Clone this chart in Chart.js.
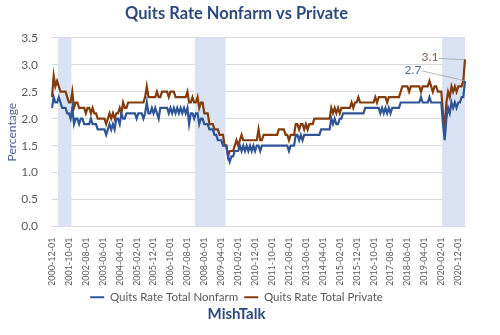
<!doctype html>
<html>
<head>
<meta charset="utf-8">
<title>Quits Rate Nonfarm vs Private</title>
<script src="https://cdn.jsdelivr.net/npm/chart.js"></script>
<style>
  html, body { margin: 0; padding: 0; background: #fff; }
  canvas { display: block; }
</style>
</head>
<body>
<canvas id="quits" width="500" height="335"></canvas>
<script>
// monthly JOLTS quits rates, Dec 2000 .. Apr 2021 (one row per year)
const FIRST_YEAR = 2000, FIRST_MONTH = 12;

const nonfarm = [
  2.2,
  2.4, 2.3, 2.3, 2.4, 2.3, 2.2, 2.2, 2.2, 2.1, 2.1, 2.0, 2.2, // 2001
  1.9, 2.0, 2.0, 1.9, 2.0, 2.0, 1.9, 1.9, 1.9, 1.9, 2.0, 1.9, // 2002
  1.9, 1.9, 1.8, 1.8, 1.8, 1.8, 1.8, 1.7, 1.8, 1.9, 1.8, 1.9, // 2003
  1.8, 2.0, 2.0, 1.9, 2.1, 2.0, 2.0, 2.1, 2.1, 2.1, 2.1, 2.1, // 2004
  2.1, 2.0, 2.1, 2.1, 2.1, 2.0, 2.1, 2.3, 2.1, 2.1, 2.2, 2.1, // 2005
  2.2, 2.1, 2.0, 2.2, 2.2, 2.2, 2.2, 2.2, 2.1, 2.2, 2.1, 2.2, // 2006
  2.1, 2.2, 2.1, 2.2, 2.1, 2.2, 2.1, 2.2, 1.9, 2.1, 2.1, 2.0, // 2007
  2.1, 2.1, 1.9, 2.0, 2.0, 1.9, 1.9, 1.9, 1.8, 1.8, 1.8, 1.7, // 2008
  1.7, 1.6, 1.6, 1.6, 1.5, 1.5, 1.5, 1.3, 1.2, 1.3, 1.3, 1.4, // 2009
  1.4, 1.4, 1.5, 1.4, 1.5, 1.4, 1.5, 1.4, 1.5, 1.4, 1.5, 1.4, // 2010
  1.5, 1.5, 1.4, 1.5, 1.5, 1.5, 1.5, 1.5, 1.5, 1.5, 1.5, 1.5, // 2011
  1.5, 1.5, 1.5, 1.5, 1.5, 1.5, 1.5, 1.4, 1.5, 1.5, 1.5, 1.7, // 2012
  1.7, 1.6, 1.7, 1.6, 1.7, 1.7, 1.7, 1.7, 1.7, 1.7, 1.7, 1.7, // 2013
  1.7, 1.7, 1.8, 1.8, 1.8, 1.8, 1.8, 1.8, 2.0, 1.9, 2.0, 1.9, // 2014
  1.9, 2.0, 2.0, 2.1, 2.1, 2.1, 2.1, 2.1, 2.1, 2.1, 2.1, 2.1, // 2015
  2.1, 2.1, 2.1, 2.1, 2.2, 2.2, 2.2, 2.2, 2.2, 2.2, 2.2, 2.2, // 2016
  2.2, 2.1, 2.2, 2.1, 2.2, 2.1, 2.2, 2.1, 2.2, 2.2, 2.2, 2.2, // 2017
  2.2, 2.3, 2.3, 2.3, 2.3, 2.3, 2.3, 2.3, 2.3, 2.3, 2.3, 2.3, // 2018
  2.3, 2.4, 2.3, 2.3, 2.3, 2.3, 2.4, 2.3, 2.3, 2.3, 2.3, 2.3, // 2019
  2.3, 2.3, 1.9, 1.6, 2.0, 2.2, 2.1, 2.3, 2.2, 2.3, 2.2, 2.3, // 2020
  2.3, 2.4, 2.4, 2.7                                          // 2021
];

const privateSector = [
  2.4,
  2.8, 2.6, 2.7, 2.6, 2.5, 2.5, 2.5, 2.5, 2.4, 2.3, 2.3, 2.5, // 2001
  2.2, 2.3, 2.3, 2.2, 2.2, 2.2, 2.2, 2.1, 2.2, 2.2, 2.1, 2.2, // 2002
  2.1, 2.1, 2.0, 2.0, 2.0, 2.0, 2.0, 1.9, 2.0, 2.1, 2.0, 2.1, // 2003
  2.0, 2.1, 2.1, 2.2, 2.1, 2.3, 2.2, 2.2, 2.3, 2.3, 2.3, 2.3, // 2004
  2.3, 2.3, 2.3, 2.3, 2.3, 2.3, 2.4, 2.6, 2.4, 2.4, 2.4, 2.4, // 2005
  2.4, 2.5, 2.4, 2.4, 2.5, 2.5, 2.5, 2.5, 2.4, 2.5, 2.5, 2.5, // 2006
  2.4, 2.4, 2.4, 2.4, 2.4, 2.4, 2.4, 2.5, 2.3, 2.3, 2.4, 2.3, // 2007
  2.3, 2.4, 2.2, 2.3, 2.3, 2.1, 2.1, 2.1, 1.9, 1.9, 1.9, 1.8, // 2008
  1.8, 1.8, 1.7, 1.7, 1.7, 1.5, 1.5, 1.3, 1.4, 1.4, 1.4, 1.5, // 2009
  1.6, 1.5, 1.6, 1.7, 1.6, 1.6, 1.6, 1.6, 1.6, 1.6, 1.6, 1.6, // 2010
  1.6, 1.8, 1.6, 1.6, 1.7, 1.7, 1.7, 1.7, 1.7, 1.7, 1.7, 1.7, // 2011
  1.7, 1.8, 1.8, 1.8, 1.8, 1.7, 1.7, 1.6, 1.7, 1.7, 1.7, 1.9, // 2012
  1.9, 1.8, 1.9, 1.9, 1.8, 1.9, 1.8, 1.9, 1.9, 1.9, 2.0, 2.0, // 2013
  2.0, 2.0, 2.0, 2.0, 2.0, 2.0, 2.0, 2.0, 2.2, 2.1, 2.2, 2.1, // 2014
  2.2, 2.1, 2.2, 2.2, 2.2, 2.2, 2.2, 2.2, 2.3, 2.2, 2.3, 2.3, // 2015
  2.4, 2.3, 2.3, 2.3, 2.3, 2.3, 2.3, 2.3, 2.3, 2.3, 2.4, 2.3, // 2016
  2.4, 2.4, 2.4, 2.4, 2.4, 2.3, 2.4, 2.4, 2.4, 2.4, 2.4, 2.4, // 2017
  2.4, 2.5, 2.6, 2.6, 2.6, 2.6, 2.5, 2.6, 2.6, 2.6, 2.6, 2.6, // 2018
  2.6, 2.5, 2.6, 2.6, 2.6, 2.6, 2.7, 2.6, 2.5, 2.6, 2.6, 2.5, // 2019
  2.5, 2.5, 2.1, 1.8, 2.3, 2.5, 2.4, 2.6, 2.5, 2.6, 2.5, 2.6, // 2020
  2.6, 2.6, 2.7, 3.1                                          // 2021
];

// recession months (first, last) shaded behind the lines
const recessions = [
  ['2001-04-01', '2001-11-01'],
  ['2008-01-01', '2009-06-01'],
  ['2020-03-01', '2021-04-01']
];

const yTicks = [0, 0.5, 1.0, 1.5, 2.0, 2.5, 3.0, 3.5];
const LABEL_EVERY = 10;

// category labels: one per month, yyyy-mm-01
const months = nonfarm.map((_, i) => {
  const m0 = FIRST_MONTH - 1 + i;
  const y = FIRST_YEAR + Math.floor(m0 / 12);
  const m = (m0 % 12) + 1;
  return y + '-' + String(m).padStart(2, '0') + '-01';
});

const BLUE = '#2F5597';
const BROWN = '#843C0C';
const GREY = '#595959';
const NAVY = '#2E4A7D';

// placement of the end-of-series value tags, relative to the last point
const tagStyle = [
  { dx: -52, dy: -11, color: '#56698F', bend: -7 },
  { dx: -35, dy: -2, color: '#7F5E4C', bend: 0 }
];

const recessionShade = {
  id: 'recessionShade',
  beforeDatasetsDraw(chart) {
    const { ctx, chartArea, scales: { x } } = chart;
    const half = (x.getPixelForValue(1) - x.getPixelForValue(0)) / 2;
    ctx.save();
    ctx.fillStyle = '#DAE3F3';
    recessions.forEach(([a, b]) => {
      const x0 = Math.max(chartArea.left, x.getPixelForValue(months.indexOf(a)) - half);
      const x1 = Math.min(chartArea.right, x.getPixelForValue(months.indexOf(b)) + half);
      ctx.fillRect(x0, chartArea.top, x1 - x0, chartArea.bottom - chartArea.top);
    });
    ctx.restore();
  }
};

const lastValueTags = {
  id: 'lastValueTags',
  afterDatasetsDraw(chart) {
    const { ctx } = chart;
    ctx.save();
    ctx.font = '12px Lato';
    ctx.textAlign = 'center';
    ctx.textBaseline = 'middle';
    chart.data.datasets.forEach((ds, i) => {
      const meta = chart.getDatasetMeta(i);
      const pt = meta.data[meta.data.length - 1];
      const t = tagStyle[i];
      const v = ds.data[ds.data.length - 1];
      const tx = pt.x + t.dx, ty = pt.y + t.dy;
      ctx.strokeStyle = '#A6A6A6';
      ctx.lineWidth = 0.8;
      ctx.beginPath();
      ctx.moveTo(tx + 9, ty + 1);
      ctx.lineTo(pt.x - 8, pt.y + t.bend * 0.3);
      ctx.lineTo(pt.x - 1, pt.y);
      ctx.stroke();
      ctx.fillStyle = t.color;
      ctx.fillText(v.toFixed(1), tx, ty);
    });
    ctx.restore();
  }
};

new Chart(document.getElementById('quits').getContext('2d'), {
  type: 'line',
  data: {
    labels: months,
    datasets: [
      { label: 'Quits Rate Total Nonfarm', data: nonfarm, borderColor: BLUE, backgroundColor: BLUE, borderWidth: 2.2, pointRadius: 0, tension: 0 },
      { label: 'Quits Rate Total Private', data: privateSector, borderColor: BROWN, backgroundColor: BROWN, borderWidth: 2.2, pointRadius: 0, tension: 0 }
    ]
  },
  options: {
    responsive: false,
    animation: false,
    devicePixelRatio: 1,
    layout: { padding: { left: 8, right: 35, top: 0, bottom: 0 } },
    plugins: {
      title: {
        display: true,
        text: 'Quits Rate Nonfarm vs Private',
        color: NAVY,
        font: { family: 'Lato', size: 16.5, weight: 'bold' },
        padding: { top: 4, bottom: 14 }
      },
      subtitle: {
        display: true,
        position: 'bottom',
        text: 'MishTalk',
        color: NAVY,
        font: { family: 'Lato', size: 15, weight: 'bold' },
        padding: { top: -8, bottom: 12 }
      },
      legend: {
        position: 'bottom',
        labels: {
          usePointStyle: true,
          pointStyle: 'line',
          pointStyleWidth: 14,
          color: GREY,
          font: { family: 'Lato', size: 11.5 },
          padding: 6
        }
      },
      tooltip: { enabled: false }
    },
    scales: {
      x: {
        offset: false,
        grid: { display: false, drawTicks: false },
        border: { color: '#D9D9D9' },
        ticks: {
          autoSkip: false,
          minRotation: 90,
          maxRotation: 90,
          padding: 11,
          color: GREY,
          font: { family: 'Lato', size: 9 },
          callback: (v, i) => (i % LABEL_EVERY === 0 ? months[i] : '')
        },
        afterFit: s => { s.height = 59; }
      },
      y: {
        min: yTicks[0],
        max: yTicks[yTicks.length - 1],
        afterBuildTicks: s => { s.ticks = yTicks.map(v => ({ value: v })); },
        grid: { color: '#D9D9D9', drawTicks: false },
        border: { display: false },
        ticks: {
          padding: 14,
          color: GREY,
          font: { family: 'Lato', size: 12 },
          callback: v => Number(v).toFixed(1)
        },
        title: {
          display: true,
          text: 'Percentage',
          color: '#4A6396',
          font: { family: 'Lato', size: 12 },
          padding: { top: -3, bottom: 0 }
        },
        afterFit: s => { s.width = 44; }
      }
    }
  },
  plugins: [recessionShade, lastValueTags]
});
</script>
</body>
</html>
